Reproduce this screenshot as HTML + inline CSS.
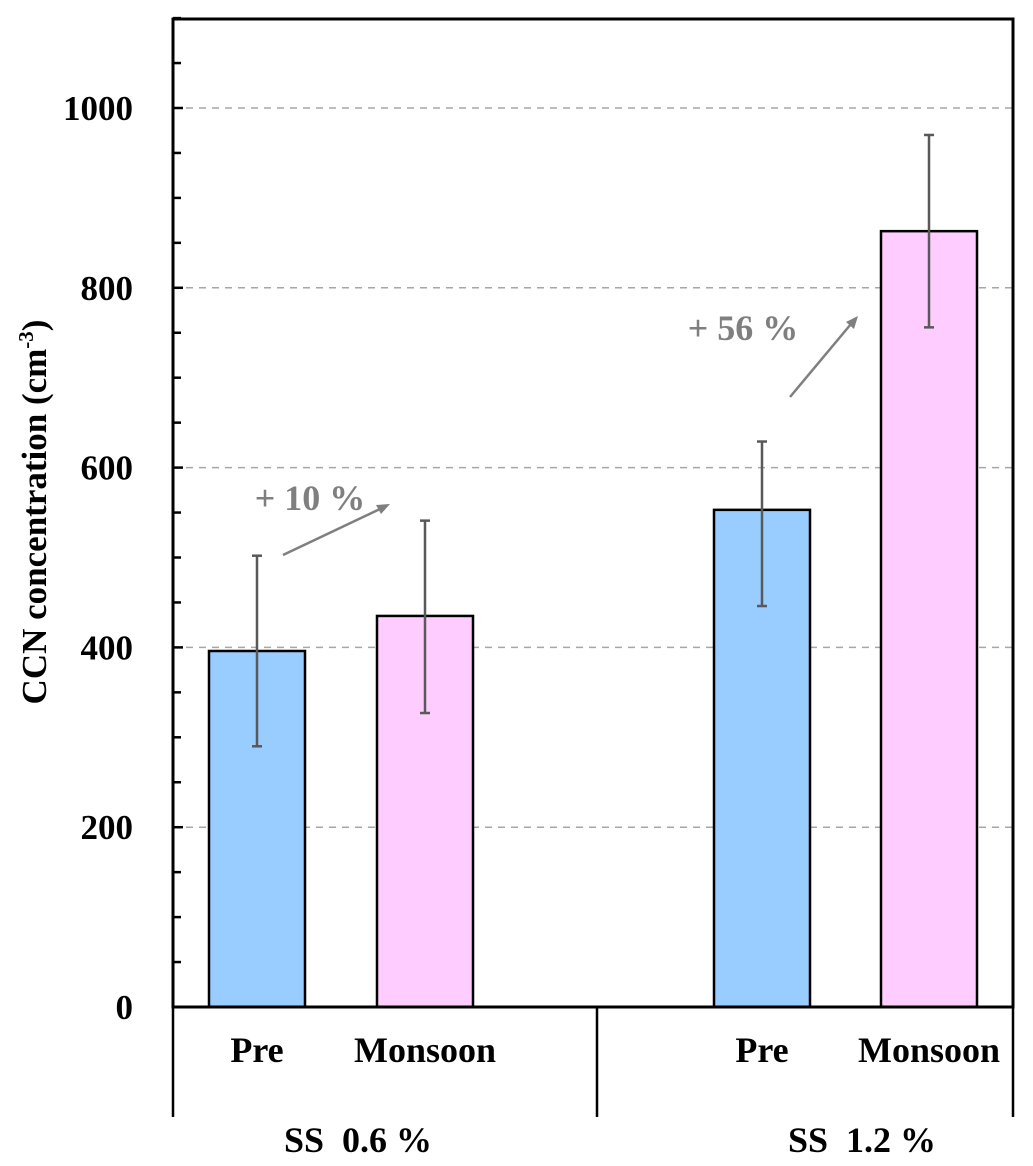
<!DOCTYPE html>
<html><head><meta charset="utf-8"><style>
body{margin:0;background:#fff}
svg{display:block;font-family:"Liberation Serif",serif;font-weight:bold}
</style></head><body>
<svg width="1033" height="1166" viewBox="0 0 1033 1166" xmlns="http://www.w3.org/2000/svg">
<g id="grid"></g>
<g id="bars"></g>
<g id="axes"></g>
<g id="labels"></g>
<text transform="translate(46,512) rotate(-90)" text-anchor="middle" font-size="35">CCN concentration (cm<tspan font-size="21" dy="-13">-3</tspan><tspan dy="13">)</tspan></text>
<g>
<text x="310" y="510" text-anchor="middle" font-size="36" fill="#7f7f7f">+ 10 %</text>
<line x1="283" y1="555" x2="380" y2="509" stroke="#7f7f7f" stroke-width="2.5"/>
<polygon points="390,504 376,505 381,514" fill="#7f7f7f"/>
</g>
<g>
<text x="743" y="340" text-anchor="middle" font-size="36" fill="#7f7f7f">+ 56 %</text>
<line x1="790" y1="397" x2="851" y2="324" stroke="#7f7f7f" stroke-width="2.5"/>
<polygon points="858,316 846,322 854,329" fill="#7f7f7f"/>
</g>
</svg>
<script>
const categories=["Pre","Monsoon","Pre","Monsoon"];
const groups=["SS  0.6 %","SS  1.2 %"];
const values=[396,435,553,863];
const errUpper=[502,541,629,970];
const errLower=[290,327,446,756];
const yTicks=[0,200,400,600,800,1000];
const NS="http://www.w3.org/2000/svg";
const L=173,R=1013,T=19,B=1007;
const y=v=>B-v*0.899;
const barX=[209,377,714,881],barW=96;
const colors=["#99ccff","#ffccff","#99ccff","#ffccff"];
function mk(tag,attrs,parent){const e=document.createElementNS(NS,tag);for(const k in attrs)e.setAttribute(k,attrs[k]);parent.appendChild(e);return e;}
const grid=document.getElementById('grid'),bars=document.getElementById('bars'),axes=document.getElementById('axes'),labels=document.getElementById('labels');
yTicks.forEach(t=>{if(t===0)return;const l=mk('line',{x1:L,x2:R,y1:y(t),y2:y(t),stroke:'#a6a6a6','stroke-width':1.5,'stroke-dasharray':'7,6'},grid);

});
values.forEach((v,i)=>{
const r=mk('rect',{x:barX[i],y:y(v),width:barW,height:B-y(v),fill:colors[i],stroke:'#000','stroke-width':2.5},bars);


const cx=barX[i]+barW/2;
const g=mk('g',{stroke:'#595959','stroke-width':2.5},bars);


mk('line',{x1:cx,x2:cx,y1:y(errUpper[i]),y2:y(errLower[i])},g);
mk('line',{x1:cx-5,x2:cx+5,y1:y(errUpper[i]),y2:y(errUpper[i])},g);
mk('line',{x1:cx-5,x2:cx+5,y1:y(errLower[i]),y2:y(errLower[i])},g);
const t=mk('text',{x:cx,y:1062,'text-anchor':'middle','font-size':36},labels);
t.textContent=categories[i];


});
mk('rect',{x:L,y:T,width:R-L,height:B-T,fill:'none',stroke:'#000','stroke-width':3},axes);
[L,597,R].forEach(x=>mk('line',{x1:x,x2:x,y1:B,y2:1117,stroke:'#000','stroke-width':2.5},axes));
for(let v=0;v<=1100;v+=50){const major=v%200===0;mk('line',{x1:L,x2:L+(major?10:8),y1:y(v),y2:y(v),stroke:'#000','stroke-width':2.5},axes);}
yTicks.forEach(t=>{const e=mk('text',{x:133,y:y(t)+12,'text-anchor':'end','font-size':35},labels);e.textContent=t;

});
groups.forEach((g,i)=>{const e=mk('text',{x:[358,862][i],y:1152,'text-anchor':'middle','font-size':36},labels);e.textContent=g;e.style.whiteSpace='pre';

});
</script>
</body></html>
